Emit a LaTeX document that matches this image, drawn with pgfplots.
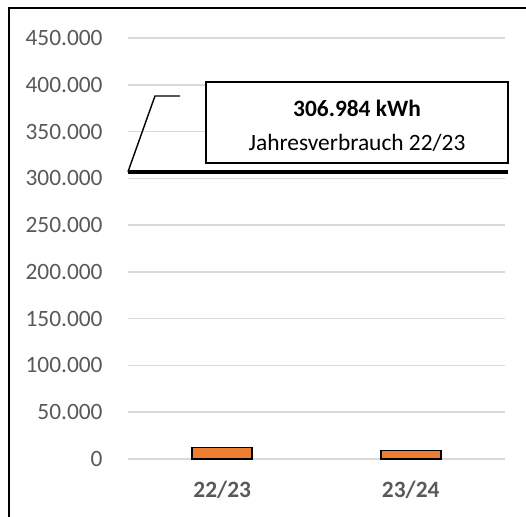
\documentclass[border=0pt]{standalone}
\usepackage{fontspec}
\setmainfont{Carlito}
\usepackage{pgfplots}
\pgfplotsset{compat=1.18}
\definecolor{tickgray}{HTML}{595959}
\definecolor{gridgray}{HTML}{D9D9D9}
\definecolor{barorange}{HTML}{ED7D31}
\begin{document}
\begin{tikzpicture}
\useasboundingbox (-64pt,-28.5pt) rectangle (199pt,229.5pt);
\draw[line width=0.9pt,black] (-59.5pt,-40pt) -- (-59.5pt,225.5pt) -- (220pt,225.5pt);
\begin{axis}[
  at={(0,0)}, anchor=south west,
  scale only axis, width=188.5pt, height=210.5pt,
  xmin=-0.5, xmax=1.5, ymin=0, ymax=450000,
  scaled y ticks=false,
  axis line style={draw=none},
  major tick length=0pt,
  xtick={0,1}, xticklabels={22/23,23/24},
  ytick={0,50000,100000,150000,200000,250000,300000,350000,400000,450000},
  yticklabels={0,50.000,100.000,150.000,200.000,250.000,300.000,350.000,400.000,450.000},
  ymajorgrids, grid style={gridgray, line width=0.8pt},
  yticklabel style={anchor=east, inner sep=0pt, xshift=-12.5pt, text=tickgray, font=\fontsize{11.7}{14}\selectfont},
  xticklabel style={anchor=base, inner sep=0pt, yshift=-19pt, text=tickgray, font=\fontsize{11.7}{14}\selectfont\bfseries},
  clip=false,
]
\addplot[ybar, bar width=30pt, fill=barorange, draw=black, line width=0.8pt] coordinates {(0,12300) (1,9100)};
\addplot[black, line width=2pt, mark=none] coordinates {(-0.5,306984) (1.516,306984)};
\addplot[black, line width=0.7pt, mark=none] coordinates {(-0.5,306984) (-0.357,388000) (-0.224,388000)};
\draw[black, line width=0.6pt, fill=white] (axis cs:-0.086,316380) rectangle (axis cs:1.516,402950);
\node[anchor=base, inner sep=0pt, font=\fontsize{11.7}{14}\selectfont\bfseries] at (axis cs:0.715,366600) {306.984 kWh};
\node[anchor=base, inner sep=0pt, font=\fontsize{11.7}{14}\selectfont] at (axis cs:0.715,330260) {Jahresverbrauch 22/23};
\end{axis}
\end{tikzpicture}
\end{document}
